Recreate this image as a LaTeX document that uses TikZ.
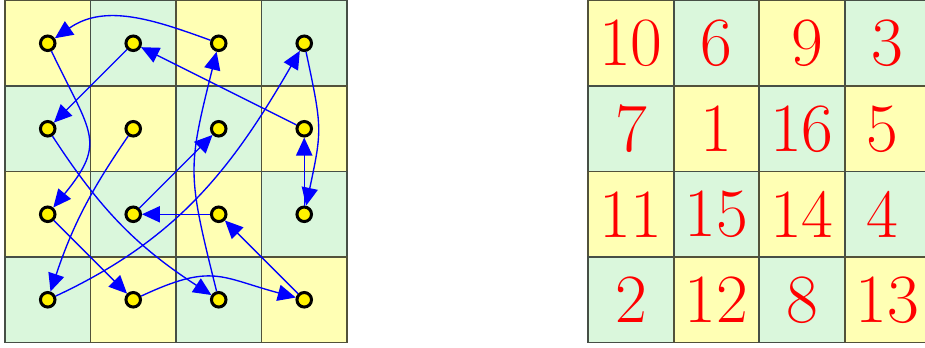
\documentclass[tikz,border=0pt]{standalone}
\usetikzlibrary{arrows.meta}
\definecolor{ycell}{RGB}{255,255,180}
\definecolor{gcell}{RGB}{218,247,220}
\begin{document}
\begin{tikzpicture}[
  ycellbox/.style={fill=ycell, draw=ycell!32!black, line width=0.6pt},
  gcellbox/.style={fill=gcell, draw=gcell!32!black, line width=0.6pt},
  dot/.style={circle, fill=yellow, draw=black, line width=1pt, inner sep=0pt, minimum size=0.17cm},
  link/.style={blue, line width=0.45pt, -{Triangle[length=2.1mm,width=1.9mm]}},
  num/.style={text=red, inner sep=0pt, font=\fontsize{23}{28}\selectfont}
]
\useasboundingbox (-0.058,-0.053) rectangle (10.76,4.006);
% checkerboards
\foreach \ox in {0,6.82}{
  \foreach \r in {1,...,4}{
    \foreach \c in {1,...,4}{
      \pgfmathtruncatemacro\cellparity{mod(\r+\c,2)}
      \edef\sty{\ifnum\cellparity=0 ycellbox\else gcellbox\fi}
      \draw[\sty] (\ox+\c-1,4-\r) rectangle ++(1,1);
    }
  }
}
% path nodes (left)
\node[dot] (n1)  at (1.5,2.5) {};
\node[dot] (n2)  at (0.5,0.5) {};
\node[dot] (n3)  at (3.5,3.5) {};
\node[dot] (n4)  at (3.5,1.5) {};
\node[dot] (n5)  at (3.5,2.5) {};
\node[dot] (n6)  at (1.5,3.5) {};
\node[dot] (n7)  at (0.5,2.5) {};
\node[dot] (n8)  at (2.5,0.5) {};
\node[dot] (n9)  at (2.5,3.5) {};
\node[dot] (n10) at (0.5,3.5) {};
\node[dot] (n11) at (0.5,1.5) {};
\node[dot] (n12) at (1.5,0.5) {};
\node[dot] (n13) at (3.5,0.5) {};
\node[dot] (n14) at (2.5,1.5) {};
\node[dot] (n15) at (1.5,1.5) {};
\node[dot] (n16) at (2.5,2.5) {};
% connectors
\draw[link] (n1) to[bend right=8] (n2);
\draw[link] (n2) to[out=25,in=-120] (n3);
\draw[link] (n3) to[out=-78,in=78,looseness=1.3] (n4);
\draw[link] (n4) -- (n5);
\draw[link] (n5) -- (n6);
\draw[link] (n6) -- (n7);
\draw[link] (n7) to[bend right=12] (n8);
\draw[link] (n8) to[out=104,in=-104,looseness=1.3] (n9);
\draw[link] (n9) to[out=160,in=35] (n10);
\draw[link] (n10) .. controls (1.0,2.45) and (1.2,2.35) .. (n11);
\draw[link] (n11) -- (n12);
\draw[link] (n12) to[out=25,in=165,looseness=1.3] (n13);
\draw[link] (n13) -- (n14);
\draw[link] (n14) -- (n15);
\draw[link] (n15) -- (n16);
% numbers (right)
\node[num] (v10) at (7.32,3.5) {10};
\node[num] (v6)  at (8.32,3.5) {6};
\node[num] (v9)  at (9.38,3.5) {9};
\node[num] (v3)  at (10.32,3.5) {3};
\node[num] (v7)  at (7.32,2.5) {7};
\node[num] (v1)  at (8.32,2.5) {1};
\node[num] (v16) at (9.32,2.5) {16};
\node[num] (v5)  at (10.26,2.5) {5};
\node[num] (v11) at (7.32,1.5) {11};
\node[num] (v15) at (8.32,1.5) {15};
\node[num] (v14) at (9.32,1.5) {14};
\node[num] (v4)  at (10.26,1.5) {4};
\node[num] (v2)  at (7.32,0.5) {2};
\node[num] (v12) at (8.32,0.5) {12};
\node[num] (v8)  at (9.32,0.5) {8};
\node[num] (v13) at (10.32,0.5) {13};
\end{tikzpicture}
\end{document}
